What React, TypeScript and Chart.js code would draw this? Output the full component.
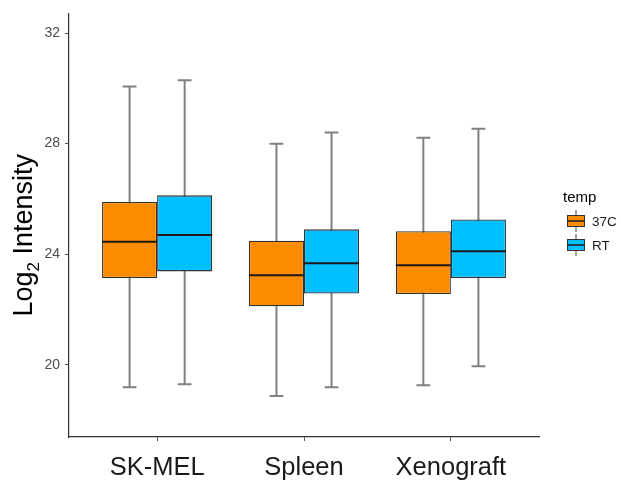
import React, { useEffect, useRef } from "react";
import { Chart, registerables } from "chart.js";

Chart.register(...registerables);

const categories = ["SK-MEL", "Spleen", "Xenograft"];
const seriesNames = ["37C", "RT"];
const seriesColors = ["#FF8C00", "#00BFFF"];

const c37Min = [19.19, 18.87, 19.26];
const c37Q1 = [23.14, 22.12, 22.56];
const c37Median = [24.45, 23.24, 23.6];
const c37Q3 = [25.89, 24.49, 24.83];
const c37Max = [30.07, 28.0, 28.21];

const rtMin = [19.3, 19.19, 19.95];
const rtQ1 = [23.38, 22.58, 23.14];
const rtMedian = [24.7, 23.67, 24.11];
const rtQ3 = [26.13, 24.9, 25.26];
const rtMax = [30.29, 28.4, 28.54];

const yTicks = [20, 24, 28, 32];
const yMin = 17.39;
const yMax = 32.71;

const FONT = "'Liberation Sans', Arial, Helvetica, sans-serif";

const stats = [
  { min: c37Min, q1: c37Q1, median: c37Median, q3: c37Q3, max: c37Max },
  { min: rtMin, q1: rtQ1, median: rtMedian, q3: rtQ3, max: rtMax },
];

const whiskerPlugin = {
  id: "boxWhiskers",
  beforeDatasetsDraw(chart: any) {
    const ctx = chart.ctx;
    const y = chart.scales.y;
    ctx.save();
    ctx.strokeStyle = "#808080";
    ctx.lineWidth = 2;
    chart.data.datasets.forEach((_: any, d: number) => {
      const meta = chart.getDatasetMeta(d);
      meta.data.forEach((bar: any, j: number) => {
        const x = bar.x;
        const cap = bar.width * 0.125;
        const yTop = y.getPixelForValue(stats[d].max[j]);
        const yBot = y.getPixelForValue(stats[d].min[j]);
        ctx.beginPath();
        ctx.moveTo(x, yTop);
        ctx.lineTo(x, yBot);
        ctx.moveTo(x - cap, yTop);
        ctx.lineTo(x + cap, yTop);
        ctx.moveTo(x - cap, yBot);
        ctx.lineTo(x + cap, yBot);
        ctx.stroke();
      });
    });
    ctx.restore();
  },
  afterDatasetsDraw(chart: any) {
    const ctx = chart.ctx;
    const y = chart.scales.y;
    ctx.save();
    ctx.strokeStyle = "#1a1a1a";
    ctx.lineWidth = 2;
    chart.data.datasets.forEach((_: any, d: number) => {
      const meta = chart.getDatasetMeta(d);
      meta.data.forEach((bar: any, j: number) => {
        const ym = y.getPixelForValue(stats[d].median[j]);
        ctx.beginPath();
        ctx.moveTo(bar.x - bar.width / 2, ym);
        ctx.lineTo(bar.x + bar.width / 2, ym);
        ctx.stroke();
      });
    });
    ctx.restore();
  },
  afterDraw(chart: any) {
    const ctx = chart.ctx;
    const area = chart.chartArea;
    ctx.save();
    // y axis title with subscript
    const cy = (area.top + area.bottom) / 2 + 10;
    const mainSize = 27;
    const subSize = 17;
    ctx.font = `${mainSize}px ${FONT}`;
    const w1 = ctx.measureText("Log").width;
    const w3 = ctx.measureText(" Intensity").width;
    ctx.font = `${subSize}px ${FONT}`;
    const w2 = ctx.measureText("2").width;
    const total = w1 + w2 + w3;
    ctx.translate(32, cy + total / 2);
    ctx.rotate(-Math.PI / 2);
    ctx.fillStyle = "#000000";
    ctx.textBaseline = "alphabetic";
    ctx.textAlign = "left";
    ctx.font = `${mainSize}px ${FONT}`;
    ctx.fillText("Log", 0, 0);
    ctx.font = `${subSize}px ${FONT}`;
    ctx.fillText("2", w1, 7);
    ctx.font = `${mainSize}px ${FONT}`;
    ctx.fillText(" Intensity", w1 + w2, 0);
    ctx.restore();

    // legend
    ctx.save();
    ctx.fillStyle = "#000000";
    ctx.textBaseline = "middle";
    ctx.textAlign = "left";
    ctx.font = `15px ${FONT}`;
    ctx.fillText("temp", 563, 198);
    const keyX = 567;
    const keyW = 18;
    const keyRows = [221, 245];
    seriesNames.forEach((name, i) => {
      const cyk = keyRows[i];
      ctx.strokeStyle = "#808080";
      ctx.lineWidth = 1.5;
      ctx.beginPath();
      ctx.moveTo(keyX + keyW / 2, cyk - 11);
      ctx.lineTo(keyX + keyW / 2, cyk + 11);
      ctx.stroke();
      ctx.fillStyle = seriesColors[i];
      ctx.fillRect(keyX, cyk - 6, keyW, 12);
      ctx.strokeStyle = "#333333";
      ctx.lineWidth = 1;
      ctx.strokeRect(keyX + 0.5, cyk - 5.5, keyW - 1, 11);
      ctx.strokeStyle = "#1a1a1a";
      ctx.lineWidth = 1.5;
      ctx.beginPath();
      ctx.moveTo(keyX, cyk);
      ctx.lineTo(keyX + keyW, cyk);
      ctx.stroke();
      ctx.fillStyle = "#1a1a1a";
      ctx.font = `13.5px ${FONT}`;
      ctx.fillText(name, 592, cyk + 1);
    });
    ctx.restore();
  },
};

export default function App() {
  const canvasRef = useRef<HTMLCanvasElement | null>(null);

  useEffect(() => {
    const canvas = canvasRef.current;
    if (!canvas) return;
    const chart = new Chart(canvas, {
      type: "bar",
      data: {
        datasets: stats.map((s, d) => ({
          label: seriesNames[d],
          data: categories.map((_, i) => ({ x: i + 1, y: [s.q1[i], s.q3[i]] })) as any,
          backgroundColor: seriesColors[d],
          borderColor: "#333333",
          borderWidth: 1.3,
          borderSkipped: false,
          categoryPercentage: 0.75,
          barPercentage: 1,
        })),
      },
      options: {
        animation: false,
        responsive: false,
        devicePixelRatio: 1,
        layout: { padding: { top: 8, right: 82, left: 0, bottom: 0 } },
        plugins: {
          legend: { display: false },
          tooltip: { enabled: false },
          title: { display: false },
        },
        scales: {
          x: {
            type: "linear",
            offset: false,
            min: 0.4,
            max: 3.6,
            afterBuildTicks: (axis: any) => {
              axis.ticks = categories.map((_, i) => ({ value: i + 1 }));
            },
            afterFit: (scale: any) => {
              scale.height = 46;
            },
            ticks: {
              autoSkip: false,
              maxRotation: 0,
              padding: 12,
              color: "#1a1a1a",
              font: { family: FONT, size: 25.5 },
              callback: (v: any) => categories[Math.round(Number(v)) - 1] ?? "",
            },
            grid: {
              display: true,
              offset: false,
              drawOnChartArea: false,
              drawTicks: true,
              tickLength: 4,
              color: "#555555",
            },
            border: { display: true, color: "#333333", width: 1.2 },
          },
          y: {
            type: "linear",
            min: yMin,
            max: yMax,
            afterBuildTicks: (axis: any) => {
              axis.ticks = yTicks.map((v) => ({ value: v }));
            },
            afterFit: (scale: any) => {
              scale.width = 69;
            },
            ticks: {
              padding: 5,
              color: "#4D4D4D",
              font: { family: FONT, size: 14 },
              callback: (v: any) => String(v),
            },
            grid: {
              display: true,
              drawOnChartArea: false,
              drawTicks: true,
              tickLength: 4,
              color: "#555555",
            },
            border: { display: true, color: "#333333", width: 1.2 },
          },
        },
      },
      plugins: [whiskerPlugin],
    } as any);
    return () => chart.destroy();
  }, []);

  return (
    <div style={{ position: "fixed", left: 0, top: 0, width: 621, height: 483, background: "#ffffff" }}>
      <canvas ref={canvasRef} width={621} height={483} style={{ width: 621, height: 483, display: "block" }} />
    </div>
  );
}
